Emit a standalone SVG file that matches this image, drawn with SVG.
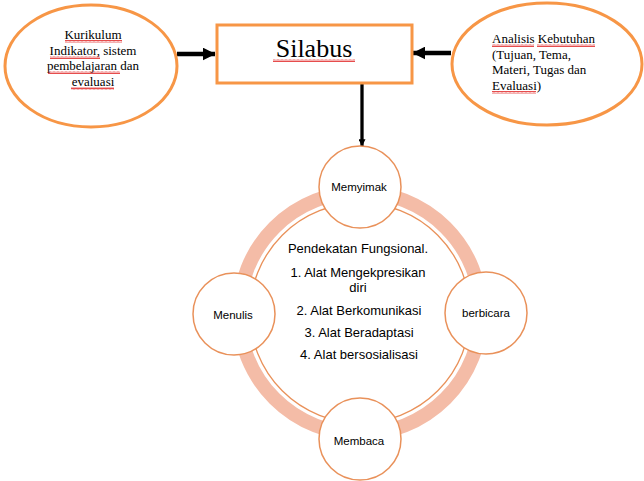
<svg xmlns="http://www.w3.org/2000/svg" width="644" height="481" viewBox="0 0 644 481">
<defs>
<marker id="ah" viewBox="0 0 10 10" refX="9.5" refY="5" markerWidth="13" markerHeight="13" orient="auto" markerUnits="userSpaceOnUse">
<path d="M0,0 L10,5 L0,10 z" fill="#000"/>
</marker>
<marker id="ahs" viewBox="0 0 10 10" refX="9.5" refY="5" markerWidth="7" markerHeight="7" orient="auto" markerUnits="userSpaceOnUse">
<path d="M0,0 L10,5 L0,10 z" fill="#000"/>
</marker>
<pattern id="sq" width="4" height="3" patternUnits="userSpaceOnUse">
<path d="M0,2.5 L1,0.5 L2,2.5 L3,0.5 L4,2.5" fill="none" stroke="#e02020" stroke-width="0.8"/>
</pattern>
<style>
.oval{fill:#fff;stroke:#F79646;stroke-width:3}
.ser{font-family:"Liberation Serif","Times New Roman",serif;font-size:13px;fill:#000}
.san{font-family:"Liberation Sans",Arial,sans-serif;fill:#000}
.node{fill:#fff;stroke:#E9915A;stroke-width:1.5}
.conn{stroke:#000;stroke-width:4.5;fill:none;marker-end:url(#ah)}
.sq{fill:url(#sq)}
</style>
</defs>
<rect width="644" height="481" fill="#fff"/>

<g id="connectors">
<line class="conn" x1="177" y1="54" x2="215" y2="54"/>
<line class="conn" x1="451" y1="53" x2="413" y2="53"/>
<line x1="362" y1="84" x2="362" y2="146" stroke="#000" stroke-width="3.3" marker-end="url(#ahs)"/>
</g>

<g id="kurikulum">
<ellipse class="oval" cx="91" cy="66" rx="86" ry="61"/>
<text class="ser" text-anchor="middle" x="93" y="39">Kurikulum</text>
<text class="ser" text-anchor="middle" x="93" y="55">Indikator, sistem</text>
<text class="ser" text-anchor="middle" x="93" y="70">pembelajaran dan</text>
<text class="ser" text-anchor="middle" x="93" y="86">evaluasi</text>
<rect class="sq" x="65" y="40" width="57" height="3"/>
<rect class="sq" x="50" y="56" width="50" height="3"/>
<rect class="sq" x="48" y="71" width="72" height="3"/>
<rect class="sq" x="71" y="87" width="43" height="3"/>
</g>

<g id="silabus">
<rect x="217" y="25" width="195" height="58" fill="#fff" stroke="#F79646" stroke-width="3"/>
<text x="314" y="57" text-anchor="middle" style="font-family:'Liberation Serif','Times New Roman',serif;font-size:26px;fill:#000">Silabus</text>
<rect class="sq" x="273" y="59" width="82" height="3"/>
</g>

<g id="analisis">
<ellipse class="oval" cx="547" cy="64" rx="95" ry="61"/>
<text class="ser" x="492" y="43">Analisis Kebutuhan</text>
<text class="ser" x="492" y="59">(Tujuan, Tema,</text>
<text class="ser" x="492" y="74">Materi, Tugas dan</text>
<text class="ser" x="492" y="90">Evaluasi)</text>
<rect class="sq" x="492" y="44" width="42" height="3"/>
<rect class="sq" x="537" y="44" width="58" height="3"/>
<rect class="sq" x="492" y="91" width="44" height="3"/>
</g>

<g id="cycle">
<circle cx="360" cy="313" r="121" fill="none" stroke="#F4BCA7" stroke-width="14"/>
<circle cx="360" cy="313" r="110" fill="#fff" stroke="#E9915A" stroke-width="1.3"/>
<g class="san" style="font-size:13px" text-anchor="middle">
<text x="358" y="253">Pendekatan Fungsional.</text>
<text x="358" y="277">1. Alat Mengekpresikan</text>
<text x="358" y="292">diri</text>
<text x="359" y="315">2. Alat Berkomunikasi</text>
<text x="359" y="337">3. Alat Beradaptasi</text>
<text x="359" y="359">4. Alat bersosialisasi</text>
</g>
</g>

<g id="memyimak">
<circle class="node" cx="360" cy="187" r="41"/>
<text class="san" x="359" y="191" text-anchor="middle" style="font-size:11.5px">Memyimak</text>
</g>
<g id="menulis">
<circle class="node" cx="234" cy="314" r="41"/>
<text class="san" x="233" y="319" text-anchor="middle" style="font-size:11.5px">Menulis</text>
</g>
<g id="berbicara">
<circle class="node" cx="486" cy="313" r="41"/>
<text class="san" x="486" y="317" text-anchor="middle" style="font-size:11.5px">berbicara</text>
</g>
<g id="membaca">
<circle class="node" cx="360" cy="439" r="41"/>
<text class="san" x="359" y="445" text-anchor="middle" style="font-size:11.5px">Membaca</text>
</g>
</svg>
